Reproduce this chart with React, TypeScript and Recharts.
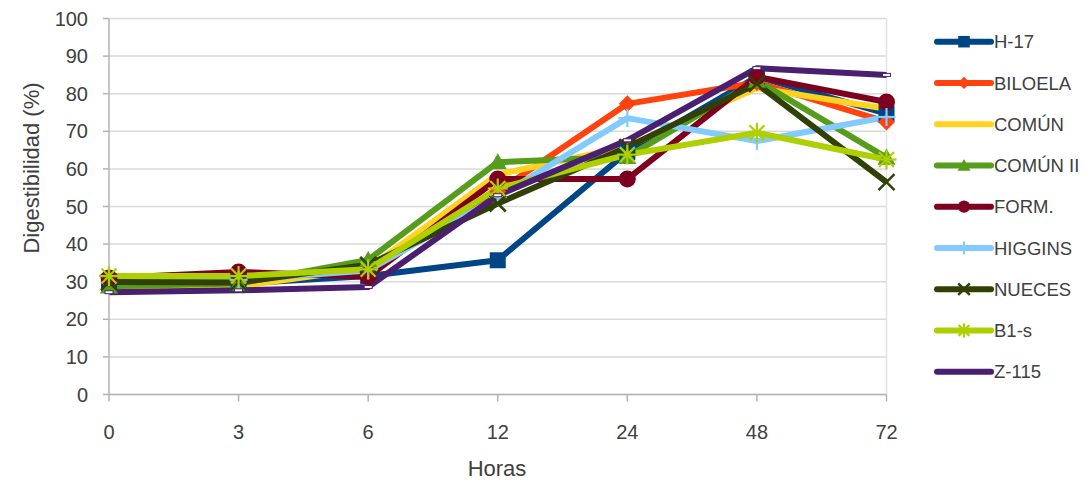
import React from 'react';
import { LineChart, Line, XAxis, YAxis, CartesianGrid, ReferenceLine } from 'recharts';

// Incubation times (hours) and in-vitro digestibility (%) per variety
const HOURS = ['0', '3', '6', '12', '24', '48', '72'];
const Y_TICKS = [0, 10, 20, 30, 40, 50, 60, 70, 80, 90, 100];

const H17 = [29.5, 29.5, 31.5, 35.7, 64.5, 84.5, 74.7];
const BILOELA = [30, 30, 33, 54, 77.3, 83, 72.5];
const COMUN = [28.5, 28.8, 33.5, 58.5, 66, 81.5, 76];
const COMUN_II = [28.8, 29.5, 35.8, 61.8, 63.2, 83.5, 63];
const FORM = [31, 32.6, 31.3, 57.3, 57.3, 84.5, 77.8];
const HIGGINS = [31.5, 30.5, 33, 52.5, 73.5, 67.4, 73.8];
const NUECES = [29.9, 29.8, 34.5, 50.8, 65.8, 82.6, 56.5];
const B1S = [31.5, 31.5, 33.3, 54.8, 63.8, 69.6, 62.5];
const Z115 = [27.2, 27.7, 28.6, 53, 67.6, 86.8, 85];

type MarkerKind = 'square' | 'diamond' | 'none' | 'triangle' | 'circle' | 'plus' | 'cross' | 'star' | 'dash';

const SERIES: { name: string; values: number[]; color: string; marker: MarkerKind; legendMarker: boolean }[] = [
  { name: 'H-17', values: H17, color: '#004586', marker: 'square', legendMarker: true },
  { name: 'BILOELA', values: BILOELA, color: '#ff420e', marker: 'diamond', legendMarker: true },
  { name: 'COMÚN', values: COMUN, color: '#ffd320', marker: 'none', legendMarker: false },
  { name: 'COMÚN II', values: COMUN_II, color: '#579d1c', marker: 'triangle', legendMarker: true },
  { name: 'FORM.', values: FORM, color: '#7e0021', marker: 'circle', legendMarker: true },
  { name: 'HIGGINS', values: HIGGINS, color: '#83caff', marker: 'plus', legendMarker: true },
  { name: 'NUECES', values: NUECES, color: '#314004', marker: 'cross', legendMarker: true },
  { name: 'B1-s', values: B1S, color: '#aecf00', marker: 'star', legendMarker: true },
  { name: 'Z-115', values: Z115, color: '#4b1f6f', marker: 'dash', legendMarker: false },
];

const data = HOURS.map((h, i) => {
  const row: Record<string, number | string> = { h };
  SERIES.forEach((s, k) => {
    row[`s${k}`] = s.values[i];
  });
  return row;
});

const FONT = "'Liberation Sans', Arial, sans-serif";
const TEXT = '#404040';

function Marker({ kind, cx, cy, color, s = 1 }: { kind: MarkerKind; cx: number; cy: number; color: string; s?: number }) {
  switch (kind) {
    case 'square': {
      const h = 8 * s;
      return <rect x={cx - h} y={cy - h} width={2 * h} height={2 * h} fill={color} />;
    }
    case 'diamond': {
      const h = 8.5 * s;
      return <polygon points={`${cx},${cy - h} ${cx + h},${cy} ${cx},${cy + h} ${cx - h},${cy}`} fill={color} />;
    }
    case 'triangle': {
      const h = 9 * s;
      return <polygon points={`${cx},${cy - h} ${cx + h},${cy + h * 0.8} ${cx - h},${cy + h * 0.8}`} fill={color} />;
    }
    case 'circle':
      return <circle cx={cx} cy={cy} r={8.5 * s} fill={color} />;
    case 'plus': {
      const h = 9 * s;
      return (
        <g stroke={color} strokeWidth={2.2}>
          <line x1={cx} y1={cy - h} x2={cx} y2={cy + h} />
          <line x1={cx - h} y1={cy} x2={cx + h} y2={cy} />
        </g>
      );
    }
    case 'cross': {
      const h = 8 * s;
      return (
        <g stroke={color} strokeWidth={2.5}>
          <line x1={cx - h} y1={cy - h} x2={cx + h} y2={cy + h} />
          <line x1={cx - h} y1={cy + h} x2={cx + h} y2={cy - h} />
        </g>
      );
    }
    case 'star': {
      const h = 10 * s;
      const d = h * 0.75;
      return (
        <g stroke={color} strokeWidth={2.2}>
          <line x1={cx} y1={cy - h} x2={cx} y2={cy + h} />
          <line x1={cx - h} y1={cy} x2={cx + h} y2={cy} />
          <line x1={cx - d} y1={cy - d} x2={cx + d} y2={cy + d} />
          <line x1={cx - d} y1={cy + d} x2={cx + d} y2={cy - d} />
        </g>
      );
    }
    case 'dash':
      return <rect x={cx - 4} y={cy - 1.5} width={8} height={3} fill="#ffffff" stroke={color} strokeWidth={1} />;
    default:
      return null;
  }
}

function Legend() {
  const x0 = 937;
  const x1 = 991;
  const top = 41.7;
  const step = 41.25;
  return (
    <g>
      {SERIES.map((s, i) => {
        const y = top + i * step;
        return (
          <g key={s.name}>
            <line x1={x0} y1={y} x2={x1} y2={y} stroke={s.color} strokeWidth={6} strokeLinecap="round" />
            {s.legendMarker && <Marker kind={s.marker} cx={(x0 + x1) / 2} cy={y} color={s.color} s={0.72} />}
            <text x={994} y={y + 6.6} fontSize={18.5} fill={TEXT} fontFamily={FONT}>
              {s.name}
            </text>
          </g>
        );
      })}
    </g>
  );
}

export default function App() {
  return (
    <div style={{ position: 'absolute', left: 0, top: 0, width: 1090, height: 485, background: '#ffffff' }}>
      <LineChart
        width={1090}
        height={485}
        data={data}
        margin={{ top: 18.5, right: 203.5, bottom: 50.5, left: 49 }}
      >
        <CartesianGrid vertical={false} stroke="#d9d9d9" strokeWidth={1.5} />
        <ReferenceLine x="72" stroke="#e3e3e3" strokeWidth={1.5} />
        <XAxis
          dataKey="h"
          height={40}
          interval={0}
          tickSize={7}
          tickMargin={23}
          axisLine={{ stroke: '#b3b3b3', strokeWidth: 1.5 }}
          tickLine={{ stroke: '#b3b3b3', strokeWidth: 1.5 }}
          tick={{ fill: TEXT, fontSize: 20, fontFamily: FONT }}
        />
        <YAxis
          width={60}
          domain={[0, 100]}
          ticks={Y_TICKS}
          interval={0}
          tickSize={6}
          tickMargin={15}
          axisLine={{ stroke: '#b3b3b3', strokeWidth: 1.5 }}
          tickLine={{ stroke: '#b3b3b3', strokeWidth: 1.5 }}
          tick={{ fill: TEXT, fontSize: 20, fontFamily: FONT }}
        />
        {SERIES.map((s, k) => (
          <Line
            key={s.name}
            dataKey={`s${k}`}
            name={s.name}
            type="linear"
            stroke={s.color}
            strokeWidth={6}
            strokeLinejoin="round"
            activeDot={false}
            isAnimationActive={false}
            dot={(p: any) => {
              if (p.cx == null || p.cy == null) return <g key={`m${k}-${p.index}`} />;
              return (
                <g key={`m${k}-${p.index}`}>
                  <Marker kind={s.marker} cx={p.cx} cy={p.cy} color={s.color} />
                </g>
              );
            }}
          />
        ))}
      </LineChart>
      <svg
        width={1090}
        height={485}
        style={{ position: 'absolute', left: 0, top: 0, pointerEvents: 'none' }}
      >
        <text x={497} y={475.5} fontSize={22} fill={TEXT} fontFamily={FONT} textAnchor="middle">
          Horas
        </text>
        <text
          x={0}
          y={0}
          fontSize={22}
          fill={TEXT}
          fontFamily={FONT}
          textAnchor="middle"
          transform="translate(38.5,168) rotate(-90)"
        >
          Digestibilidad (%)
        </text>
        <Legend />
      </svg>
    </div>
  );
}
